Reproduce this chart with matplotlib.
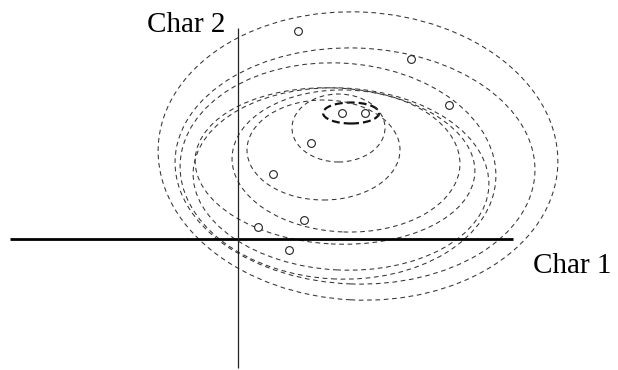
import matplotlib
matplotlib.use("Agg")
import matplotlib.pyplot as plt
from matplotlib.patches import Ellipse

# Observations in (Char 1, Char 2) space
char1_vals = [6.0, 17.3, 21.1, 10.4, 12.7, 7.3, 3.5, 6.6, 2.0, 5.1]
char2_vals = [20.8, 18.0, 13.4, 12.6, 12.6, 9.6, 6.5, 1.9, 1.2, -1.1]

# Nested contour ellipses: centre, full width, full height, tilt (degrees)
ell_cx = [11.3, 10.05, 8.55, 10.8, 9.7, 10.3, 10.0, 11.7, 12.0]
ell_cy = [12.6, 11.1, 8.9, 7.8, 7.3, 6.0, 6.8, 7.3, 8.3]
ell_w = [5.6, 9.3, 15.3, 22.8, 28.0, 29.6, 31.6, 36.0, 40.0]
ell_h = [2.1, 6.8, 10.0, 14.2, 15.6, 18.2, 21.6, 23.6, 28.8]
ell_tilt = [0, 0, 0, -2, -3, -3, -3, -2, -3]

# Axis extents
h_axis = (-22.8, 27.5)
v_axis = (-12.9, 21.1)

fig = plt.figure(figsize=(6.18, 3.70), dpi=100)
ax = fig.add_axes([0, 0, 1, 1])
ax.set_xlim(-23.8, 38.0)
ax.set_ylim(-13.1, 23.9)
ax.set_aspect("equal")
ax.axis("off")

for i, (cx, cy, w, h, t) in enumerate(zip(ell_cx, ell_cy, ell_w, ell_h, ell_tilt)):
    if i == 0:
        style = dict(lw=1.6, linestyle=(0, (3.6, 1.8)), edgecolor="#111111")
    else:
        style = dict(lw=0.75, linestyle=(0, (4.5, 3.5)), edgecolor="#333333")
    ax.add_patch(Ellipse((cx, cy), w, h, angle=t, facecolor="none", **style))

ax.plot(h_axis, [0, 0], color="black", lw=2.0, solid_capstyle="butt")
ax.plot([0, 0], v_axis, color="#222222", lw=0.9, solid_capstyle="butt")

ax.plot(char1_vals, char2_vals, linestyle="none", marker="o", ms=5.6,
        mfc="white", mec="#222222", mew=0.8)

font = dict(family=["Liberation Serif", "DejaVu Serif"], fontsize=21, color="black")
ax.text(-9.1, 20.7, "Char 2", ha="left", va="baseline", **font)
ax.text(29.5, -3.4, "Char 1", ha="left", va="baseline", **font)

fig.savefig("out.png", dpi=100, facecolor="white")
